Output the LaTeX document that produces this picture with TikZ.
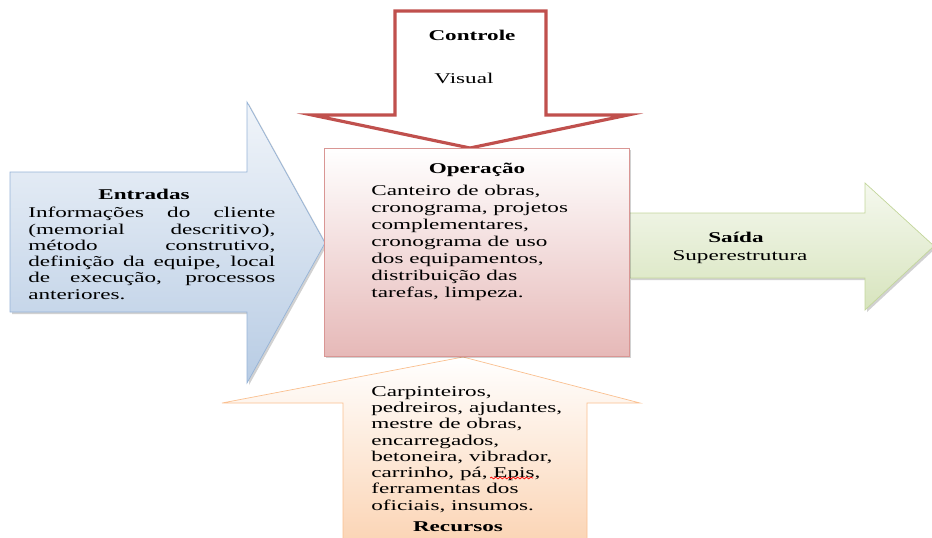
\documentclass[tikz,border=0pt]{standalone}
\usepackage{fontspec}
\setmainfont{Liberation Serif}[FakeStretch=1.55]
\usetikzlibrary{decorations.pathmorphing}

\definecolor{inblue}{HTML}{B8CCE4}
\definecolor{inblueline}{HTML}{95B3D7}
\definecolor{oppink}{HTML}{E6B9B8}
\definecolor{oppinkline}{HTML}{D99694}
\definecolor{ctrlred}{HTML}{C0504D}
\definecolor{outgreen}{HTML}{D7E4BD}
\definecolor{outgreenline}{HTML}{C3D69B}
\definecolor{respeach}{HTML}{FBD4B4}
\definecolor{respeachline}{HTML}{FAC090}

% one justified line of the Entradas text
\newcommand{\jline}[1]{\makebox[4.94cm][s]{#1}}

\begin{document}
\begin{tikzpicture}[x=0.02cm, y=-0.02cm,
  title/.style={font=\fontsize{8.5}{9.7}\selectfont\bfseries, inner sep=0pt},
  body/.style={font=\fontsize{8.5}{9.7}\selectfont, inner sep=0pt, align=left, anchor=north west},
  shade box/.style={fill=black, opacity=0.18}
]
\useasboundingbox (0,0) rectangle (932,537);

% entradas arrow
\fill[shade box] (12,174) -- (249,174) -- (249,104) -- (327,245) -- (249,385) -- (249,314) -- (12,314) -- cycle;
\path[draw=inblueline, top color=inblue!20, bottom color=inblue]
  (10,172) -- (247,172) -- (247,102) -- (325,243) -- (247,383) -- (247,312) -- (10,312) -- cycle;

% recursos arrow
\path[draw=respeachline, top color=white, bottom color=respeach]
  (463,357) -- (640,403) -- (587,403) -- (587,545) -- (343,545) -- (343,403) -- (222,403) -- cycle;

% controle arrow
\path[draw=ctrlred, line width=1.8pt, fill=white, line join=miter]
  (395,11) -- (546,11) -- (546,115) -- (628,115) -- (470,148) -- (312,115) -- (395,115) -- cycle;

% saida arrow
\fill[shade box] (631,215) -- (867,215) -- (867,185) -- (936,248) -- (867,312) -- (867,280) -- (631,280) -- cycle;
\path[draw=outgreenline, top color=outgreen!25, bottom color=outgreen]
  (629,213) -- (865,213) -- (865,183) -- (934,246) -- (865,310) -- (865,278) -- (629,278) -- cycle;

% operacao box
\fill[shade box] (326,150) rectangle (631,358);
\path[draw=oppinkline, top color=white, bottom color=oppink] (324,148) rectangle (629,356);

% texts
\node[title] (ctrlT) at (472,35) {Controle};
\node[inner sep=0pt, font=\fontsize{8.5}{9.7}\selectfont] (ctrlB) at (464,78) {Visual};

\node[title] (inT) at (144,194) {Entradas};
\node[body, font=\fontsize{8.5}{9.25}\selectfont] (inB) at (28,207) {%
  \jline{Informações do cliente}\\
  \jline{(memorial descritivo),}\\
  \jline{método construtivo,}\\
  \jline{definição da equipe, local}\\
  \jline{de execução, processos}\\
  anteriores.};

\node[title] (opT) at (477,170) {Operação};
\node[body] (opB) at (371,185) {Canteiro de obras,\\
  cronograma, projetos\\
  complementares,\\
  cronograma de uso\\
  dos equipamentos,\\
  distribuição das\\
  tarefas, limpeza.};

\node[title] (outT) at (736,237) {Saída};
\node[inner sep=0pt, font=\fontsize{8.5}{9.7}\selectfont] (outB) at (740,257) {Superestrutura};

\node[body, font=\fontsize{8.5}{9.25}\selectfont] (resB) at (371,386) {Carpinteiros,\\
  pedreiros, ajudantes,\\
  mestre de obras,\\
  encarregados,\\
  betoneira, vibrador,\\
  carrinho, pá, Epis,\\
  ferramentas dos\\
  oficiais, insumos.};
\node[title] (resT) at (458,527) {Recursos};

% spelling squiggle under Epis
\draw[red, line width=0.4pt, decorate, decoration={snake, amplitude=0.5pt, segment length=2.5pt}]
  (490,478) -- (533,478);
\end{tikzpicture}
\end{document}
